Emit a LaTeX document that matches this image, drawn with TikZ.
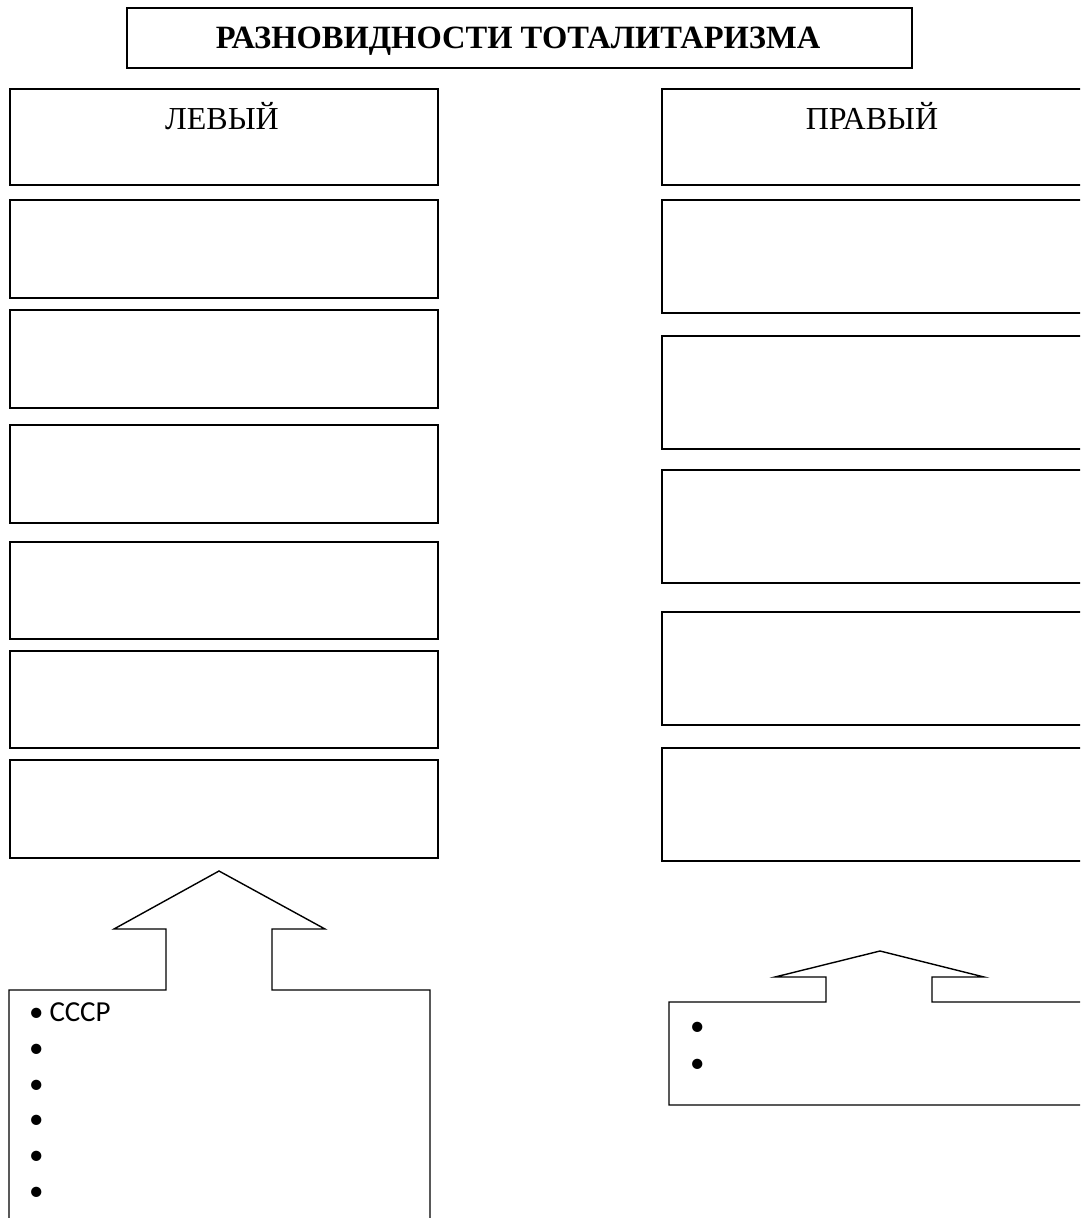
\documentclass[tikz,border=0pt]{standalone}
\usepackage{fontspec}
\setmainfont{Liberation Serif}
\newfontfamily\calib{Carlito}
\begin{document}
\begin{tikzpicture}[x=1pt,y=-1pt,
  bx/.style={draw, line width=1.8pt, anchor=north west, inner sep=0pt},
  shp/.style={draw, line width=1.4pt, line join=miter},
  hdr/.style={font=\fontsize{32}{32}\selectfont},
  bul/.style={anchor=base west, inner sep=0pt, font=\calib\fontsize{29}{29}\selectfont}
]
\useasboundingbox (0,0) rectangle (1080,1218);
\clip (0,0) rectangle (1080,1218);

% title
\node[bx, minimum width=785pt, minimum height=60pt] (T) at (126,7) {};
\node[font=\bfseries\fontsize{32.5}{32}\selectfont, anchor=base] (Tt) at (518,48) {РАЗНОВИДНОСТИ ТОТАЛИТАРИЗМА};

% left column
\node[bx, minimum width=428pt, minimum height=96pt] (L1) at (9,88) {};
\node[hdr, anchor=base] (L1t) at (222,129) {ЛЕВЫЙ};
\node[bx, minimum width=428pt, minimum height=98pt] (L2) at (9,199) {};
\node[bx, minimum width=428pt, minimum height=98pt] (L3) at (9,309) {};
\node[bx, minimum width=428pt, minimum height=98pt] (L4) at (9,424) {};
\node[bx, minimum width=428pt, minimum height=97pt] (L5) at (9,541) {};
\node[bx, minimum width=428pt, minimum height=97pt] (L6) at (9,650) {};
\node[bx, minimum width=428pt, minimum height=98pt] (L7) at (9,759) {};

% right column
\node[bx, minimum width=440pt, minimum height=96pt] (R1) at (661,88) {};
\node[hdr, anchor=base] (R1t) at (872,129) {ПРАВЫЙ};
\node[bx, minimum width=440pt, minimum height=113pt] (R2) at (661,199) {};
\node[bx, minimum width=440pt, minimum height=113pt] (R3) at (661,335) {};
\node[bx, minimum width=440pt, minimum height=113pt] (R4) at (661,469) {};
\node[bx, minimum width=440pt, minimum height=113pt] (R5) at (661,611) {};
\node[bx, minimum width=440pt, minimum height=113pt] (R6) at (661,747) {};

% left arrow + list box
\draw[shp] (9,1230) -- (9,990) -- (166,990) -- (166,929) -- (114,929)
  -- (219,871) -- (325,929) -- (272,929) -- (272,990) -- (430,990) -- (430,1230);
\node[bul] (b1) at (29,1021) {•\hspace{6pt}СССР};
\node[bul] (b2) at (29,1057) {•};
\node[bul] (b3) at (29,1093) {•};
\node[bul] (b4) at (29,1128) {•};
\node[bul] (b5) at (29,1164) {•};
\node[bul] (b6) at (29,1200) {•};

% right arrow + list box
\draw[shp] (1090,1002) -- (932,1002) -- (932,977) -- (984,977) -- (880,951)
  -- (775,977) -- (826,977) -- (826,1002) -- (669,1002) -- (669,1105) -- (1090,1105);
\node[bul] (c1) at (690,1035) {•};
\node[bul] (c2) at (690,1072) {•};
\end{tikzpicture}
\end{document}
